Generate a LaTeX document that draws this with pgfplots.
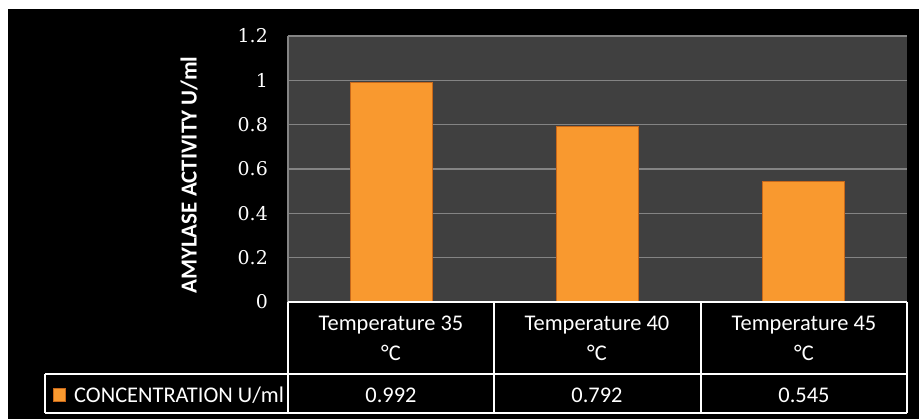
\documentclass[border=0pt]{standalone}
\usepackage{pgfplots}
\pgfplotsset{compat=1.18}
\usepackage{fontspec}
\setmainfont{Carlito}
\newfontfamily\tickfont{DejaVu Serif}
\definecolor{plotgray}{HTML}{404040}
\definecolor{gridgray}{HTML}{848484}
\definecolor{barorange}{HTML}{F9992F}
\definecolor{baredge}{HTML}{C8681A}
\begin{document}
\begin{tikzpicture}[x=1bp,y=1bp]
\fill[white] (0,0) rectangle (919,419);
\fill[black] (8,0) rectangle (919,410);
\begin{axis}[
  at={(288bp,117bp)}, anchor=south west,
  scale only axis, width=619bp, height=266bp,
  xmin=-0.5, xmax=2.5, ymin=0, ymax=1.2,
  xtick=\empty,
  ytick={0,0.2,0.4,0.6,0.8,1,1.2},
  yticklabels={0,0.2,0.4,0.6,0.8,1,1.2},
  major tick length=0pt,
  yticklabel style={font=\tickfont\fontsize{19}{24}\selectfont, text=white, anchor=east, inner sep=0pt, xshift=-20bp},
  axis line style={draw=none},
  axis background/.style={fill=plotgray},
  ymajorgrids, grid style={gridgray, line width=1.5bp},
  ybar, bar width=82bp, bar shift=0pt,
  clip=false,
]
\addplot[fill=barorange, draw=baredge, line width=1bp] coordinates {(0,0.992) (1,0.792) (2,0.545)};
\end{axis}
\draw[gridgray, line width=1.5bp] (288,117) -- (288,383);
\draw[white, line width=1.5bp] (288,117) -- (907,117);
\draw[white, line width=1.5bp] (45,45) -- (907,45);
\draw[white, line width=1.5bp] (45,6) -- (907,6);
\foreach \x in {288,494,701,907} \draw[white, line width=1.5bp] (\x,117) -- (\x,6);
\draw[white, line width=1.5bp] (45,45) -- (45,6);
\begin{scope}[every node/.style={text=white, font=\fontsize{22.5}{26}\selectfont}]
\node at (391,94) {Temperature 35};
\node at (597,94) {Temperature 40};
\node at (804,94) {Temperature 45};
\node at (391,66) {°C};
\node at (597,66) {°C};
\node at (804,66) {°C};
\node at (391,24) {0.992};
\node at (597,24) {0.792};
\node at (804,24) {0.545};
\node[anchor=west, inner sep=0pt] at (74,24) {CONCENTRATION U/ml};
\end{scope}
\fill[barorange, draw=baredge, line width=0.8bp] (53,18) rectangle (65,31);
\node[rotate=90, text=white, font=\bfseries\fontsize{23}{26}\selectfont] at (189,244) {AMYLASE ACTIVITY U/ml};
\end{tikzpicture}
\end{document}
